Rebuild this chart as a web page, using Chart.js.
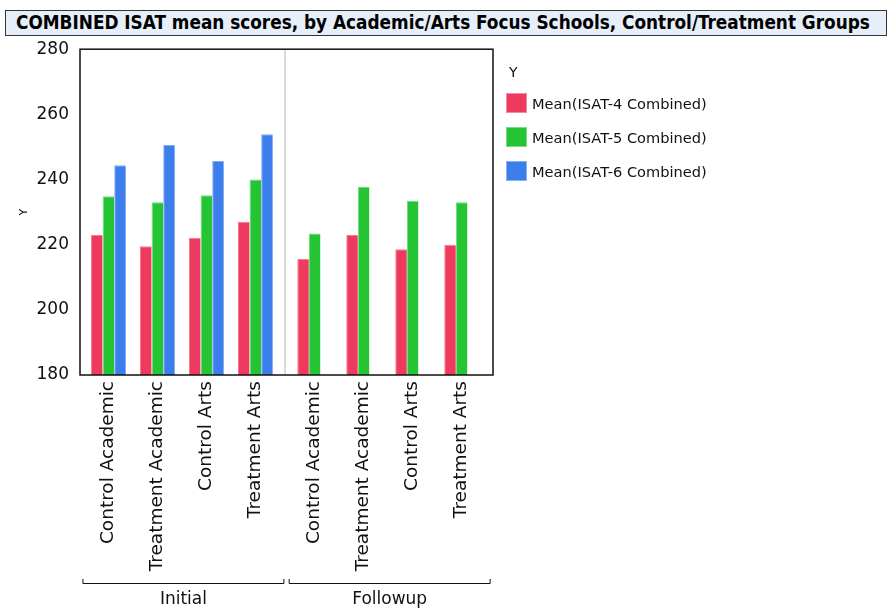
<!DOCTYPE html>
<html>
<head>
<meta charset="utf-8">
<script src="https://cdn.jsdelivr.net/npm/chart.js@4"></script>
<style>
  body { margin: 0; background: #fff; width: 890px; height: 609px; overflow: hidden; position: relative; font-family: "DejaVu Sans", sans-serif; }
  #title { position: absolute; left: 5px; top: 10px; width: 882px; height: 26px; background: #e6eef9; border: 1px solid #333;
           font: bold 18.8px "DejaVu Sans Condensed", "DejaVu Sans", sans-serif; line-height: 24px; padding-left: 10px; box-sizing: border-box; white-space: nowrap; overflow: hidden; }
  #wrap { position: absolute; left: 0; top: 35px; width: 890px; height: 574px; }
  #legend { position: absolute; left: 506px; top: 62px; font: 14.6px "DejaVu Sans", sans-serif; color: #111; }
  #legend .ttl { height: 20px; line-height: 20px; margin-left: 3px; margin-bottom: 11px; font-size: 14px; }
  #legend .row { display: flex; align-items: center; height: 20px; margin-bottom: 14px; }
  #legend .sw { width: 21px; height: 20px; margin-right: 5px; border: 1px solid rgba(255,255,255,0.4); box-sizing: border-box; }
</style>
</head>
<body>
<div id="title">COMBINED ISAT mean scores, by Academic/Arts Focus Schools, Control/Treatment Groups</div>
<div id="wrap"><canvas id="myChart"></canvas></div>
<div id="legend"><div class="ttl">Y</div></div>
<script>
// categories and groups
const categories = ["Control Academic", "Treatment Academic", "Control Arts", "Treatment Arts",
                    "Control Academic", "Treatment Academic", "Control Arts", "Treatment Arts"];
const groups = [{ label: "Initial", from: 0, to: 3 }, { label: "Followup", from: 4, to: 7 }];

// series (means)
const isat4 = [223.0, 219.5, 222.1, 227.0, 215.7, 223.0, 218.6, 220.0];
const isat5 = [234.9, 233.0, 235.2, 240.0, 223.4, 237.8, 233.5, 233.0];
const isat6 = [244.4, 250.6, 245.7, 253.9, null, null, null, null];

const seriesNames = ["Mean(ISAT-4 Combined)", "Mean(ISAT-5 Combined)", "Mean(ISAT-6 Combined)"];
const colors = ["rgb(238,58,94)", "rgb(36,196,52)", "rgb(60,126,236)"];
const borders = ["rgb(246,120,140)", "rgb(110,220,120)", "rgb(130,170,245)"];

// slot position of each category, small gap between the two groups
const GAP = 0.21;
const slot = categories.map((c, i) => i + (i >= groups[1].from ? GAP : 0));

// legend (html, chart.js would clip the long labels)
const leg = document.getElementById('legend');
seriesNames.forEach((n, i) => {
  const row = document.createElement('div');
  row.className = 'row';
  row.innerHTML = '<div class="sw" style="background:' + colors[i] + '"></div><span>' + n + '</span>';
  leg.appendChild(row);
});

// frame, separator line and group brackets under the axis
const extras = {
  id: 'extras',
  beforeDatasetsDraw(chart) {
    const { ctx, chartArea: a, scales: { x } } = chart;
    ctx.save();
    ctx.strokeStyle = '#cfcfcf';
    ctx.lineWidth = 1.5;
    const sep = x.getPixelForValue((slot[3] + slot[4]) / 2);
    ctx.beginPath(); ctx.moveTo(sep, a.top); ctx.lineTo(sep, a.bottom); ctx.stroke();
    ctx.restore();
  },
  afterDraw(chart) {
    const { ctx, chartArea: a, scales: { x } } = chart;
    ctx.save();
    ctx.strokeStyle = '#111';
    ctx.lineWidth = 1.5;
    ctx.strokeRect(a.left, a.top, a.right - a.left, a.bottom - a.top);
    const by = a.bottom + 208;
    ctx.lineWidth = 1;
    ctx.fillStyle = '#111';
    ctx.font = '17px "DejaVu Sans"';
    ctx.textAlign = 'center';
    ctx.textBaseline = 'middle';
    groups.forEach(g => {
      const l = x.getPixelForValue(slot[g.from] - 0.5) - 1;
      const r = x.getPixelForValue(slot[g.to] + 0.5) + 4;
      ctx.beginPath();
      ctx.moveTo(l, by - 4); ctx.lineTo(l, by + 0.5); ctx.lineTo(r, by + 0.5); ctx.lineTo(r, by - 4);
      ctx.stroke();
      ctx.fillText(g.label, (l + r) / 2, by + 17);
    });
    ctx.restore();
  }
};

const ctx = document.getElementById('myChart');
new Chart(ctx, {
  type: 'bar',
  data: {
    datasets: [isat4, isat5, isat6].map((d, i) => ({
      label: seriesNames[i],
      data: d.map((v, j) => ({ x: slot[j], y: v })),
      backgroundColor: colors[i],
      borderColor: borders[i],
      borderWidth: { top: 1, left: 1, right: 0, bottom: 0 },
      borderSkipped: 'bottom'
    }))
  },
  options: {
    responsive: true,
    maintainAspectRatio: false,
    animation: false,
    layout: { padding: { top: 8, right: 397, left: 18, bottom: 0 } },
    datasets: { bar: { categoryPercentage: 0.71, barPercentage: 1.0 } },
    plugins: {
      legend: { display: false },
      tooltip: { enabled: false }
    },
    scales: {
      x: {
        type: 'linear',
        offset: false,
        min: -0.58,
        max: slot[7] + 0.64,
        grid: { display: false, drawTicks: false },
        border: { display: false },
        afterBuildTicks(s) { s.ticks = slot.map(v => ({ value: v })); },
        ticks: {
          autoSkip: false, minRotation: 90, maxRotation: 90, padding: 6, color: '#111',
          font: { size: 18.5, family: 'DejaVu Sans' },
          callback: (v, i) => categories[i]
        },
        afterFit(s) { s.height = 234; }
      },
      y: {
        min: 180, max: 280,
        grid: { display: false, drawOnChartArea: false, drawTicks: true, tickLength: 7, tickColor: '#ccc' },
        border: { display: false },
        title: { display: true, text: 'Y', color: '#111', font: { size: 11, family: 'DejaVu Sans' }, padding: { top: 0, bottom: 0 } },
        ticks: {
          stepSize: 10, color: '#111', padding: 4, font: { size: 17, family: 'DejaVu Sans' },
          callback: v => (v % 20 === 0 ? v : '')
        },
        afterFit(s) { s.width = 62; }
      }
    }
  },
  plugins: [extras]
});
</script>
</body>
</html>
